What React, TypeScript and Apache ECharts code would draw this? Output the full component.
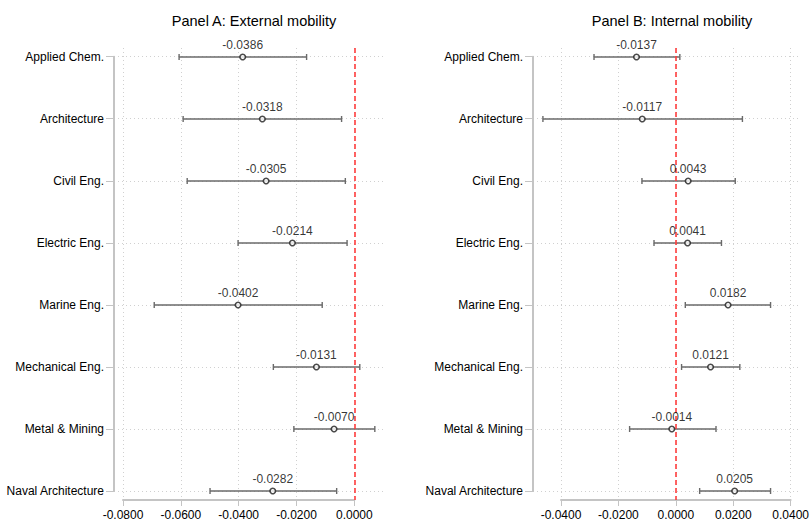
import React, { useEffect, useRef } from "react";
import * as echarts from "echarts";

// Field categories (top to bottom)
const categories = [
  "Applied Chem.",
  "Architecture",
  "Civil Eng.",
  "Electric Eng.",
  "Marine Eng.",
  "Mechanical Eng.",
  "Metal & Mining",
  "Naval Architecture",
];

// Panel A: external mobility — point estimates and confidence bounds
const externalEst = [-0.0386, -0.0318, -0.0305, -0.0214, -0.0402, -0.0131, -0.007, -0.0282];
const externalLo = [-0.0606, -0.0592, -0.0578, -0.0402, -0.0692, -0.028, -0.0209, -0.0499];
const externalHi = [-0.0165, -0.0044, -0.0031, -0.0025, -0.0111, 0.0019, 0.0071, -0.0061];

// Panel B: internal mobility — point estimates and confidence bounds
const internalEst = [-0.0137, -0.0117, 0.0043, 0.0041, 0.0182, 0.0121, -0.0014, 0.0205];
const internalLo = [-0.0285, -0.0463, -0.0118, -0.0076, 0.0033, 0.002, -0.0161, 0.0083];
const internalHi = [0.0014, 0.0232, 0.0207, 0.0159, 0.033, 0.0223, 0.014, 0.033];

// Axis ranges for the two panels
const externalAxis = { min: -0.08, max: 0, interval: 0.02 };
const internalAxis = { min: -0.04, max: 0.04, interval: 0.02 };

const FONT = "'Liberation Sans', Arial, Helvetica, sans-serif";
const AXIS_GRAY = "#c4c4c4";
const GRID_GRAY = "#d0d0d0";
const BAR_GRAY = "#6a6a6a";

export default function App() {
  const ref = useRef<HTMLDivElement>(null);

  useEffect(() => {
    if (!ref.current) return;
    const chart = echarts.init(ref.current, undefined, { renderer: "svg" });

    const errorBarSeries = (xi: number, lo: number[], hi: number[]) => ({
      type: "custom",
      xAxisIndex: xi,
      yAxisIndex: xi,
      clip: false,
      z: 3,
      data: lo.map((l, i) => [l, hi[i], i]),
      renderItem: (_params: any, api: any) => {
        const a = api.coord([api.value(0), api.value(2)]);
        const b = api.coord([api.value(1), api.value(2)]);
        const cap = 3;
        const style = { stroke: BAR_GRAY, lineWidth: 1.4 };
        return {
          type: "group",
          children: [
            { type: "line", shape: { x1: a[0], y1: a[1], x2: b[0], y2: b[1] }, style },
            { type: "line", shape: { x1: a[0], y1: a[1] - cap, x2: a[0], y2: a[1] + cap }, style },
            { type: "line", shape: { x1: b[0], y1: b[1] - cap, x2: b[0], y2: b[1] + cap }, style },
          ],
        };
      },
    });

    const pointSeries = (xi: number, est: number[]) => ({
      type: "scatter",
      xAxisIndex: xi,
      yAxisIndex: xi,
      z: 5,
      symbol: "circle",
      symbolSize: 5.5,
      itemStyle: { color: "#ffffff", borderColor: "#1e1e1e", borderWidth: 1.6 },
      label: {
        show: true,
        position: "top",
        distance: 2,
        color: "#000",
        fontSize: 12,
        fontFamily: FONT,
        formatter: (p: any) => (p.value[0] as number).toFixed(4),
      },
      data: est.map((v, i) => [v, i]),
      markLine: {
        silent: true,
        symbol: "none",
        label: { show: false },
        lineStyle: { color: "#ff3d3d", width: 1.6, type: [5, 3] },
        data: [{ xAxis: 0 }],
      },
    });

    const frameY = (gi: number) => ({
      type: "category",
      gridIndex: gi,
      data: categories,
      inverse: true,
      boundaryGap: false,
      axisLine: { show: true, lineStyle: { color: AXIS_GRAY, width: 2 } },
      axisTick: { show: true, length: 8, lineStyle: { color: AXIS_GRAY, width: 1 } },
      axisLabel: { color: "#000", fontSize: 12, fontFamily: FONT, margin: 10 },
      splitLine: { show: true, lineStyle: { color: GRID_GRAY, width: 1, type: [1, 3] } },
    });

    const dataY = (gi: number) => ({
      type: "value",
      gridIndex: gi,
      inverse: true,
      min: -0.145,
      max: categories.length - 1 + 0.145,
      show: false,
      splitLine: { show: false },
    });

    const dataX = (gi: number, ax: { min: number; max: number; interval: number }) => ({
      type: "value",
      gridIndex: gi,
      min: ax.min,
      max: ax.max,
      interval: ax.interval,
      axisLine: { show: true, onZero: false, lineStyle: { color: AXIS_GRAY, width: 2 } },
      axisTick: { show: true, length: 6, lineStyle: { color: AXIS_GRAY, width: 1 } },
      axisLabel: {
        color: "#000",
        fontSize: 12,
        fontFamily: FONT,
        margin: 9,
        formatter: (v: number) => v.toFixed(4),
      },
      splitLine: { show: true, lineStyle: { color: GRID_GRAY, width: 1, type: [1, 3] } },
    });

    const titleStyle = { fontSize: 14.5, fontWeight: "normal", color: "#000", fontFamily: FONT };

    const option: any = {
      animation: false,
      backgroundColor: "#ffffff",
      title: [
        { text: "Panel A: External mobility", left: 249, top: 8, textAlign: "center", textStyle: titleStyle },
        { text: "Panel B: Internal mobility", left: 667, top: 8, textAlign: "center", textStyle: titleStyle },
      ],
      grid: [
        // frames carrying the category axis and horizontal guides
        { left: 114, right: 429, top: 56.7, bottom: 34 },
        { left: 533, right: 11, top: 56.7, bottom: 34 },
        // data areas carrying the value axis
        { left: 123, right: 457.7, top: 48, bottom: 25 },
        { left: 561, right: 19.3, top: 48, bottom: 25 },
      ],
      xAxis: [
        { type: "value", gridIndex: 0, show: false },
        { type: "value", gridIndex: 1, show: false },
        dataX(2, externalAxis),
        dataX(3, internalAxis),
      ],
      yAxis: [frameY(0), frameY(1), dataY(2), dataY(3)],
      series: [
        errorBarSeries(2, externalLo, externalHi),
        pointSeries(2, externalEst),
        errorBarSeries(3, internalLo, internalHi),
        pointSeries(3, internalEst),
      ],
    };

    chart.setOption(option);
    return () => chart.dispose();
  }, []);

  return (
    <div
      ref={ref}
      style={{ position: "fixed", left: 0, top: 0, width: 812, height: 525, background: "#fff" }}
    />
  );
}
